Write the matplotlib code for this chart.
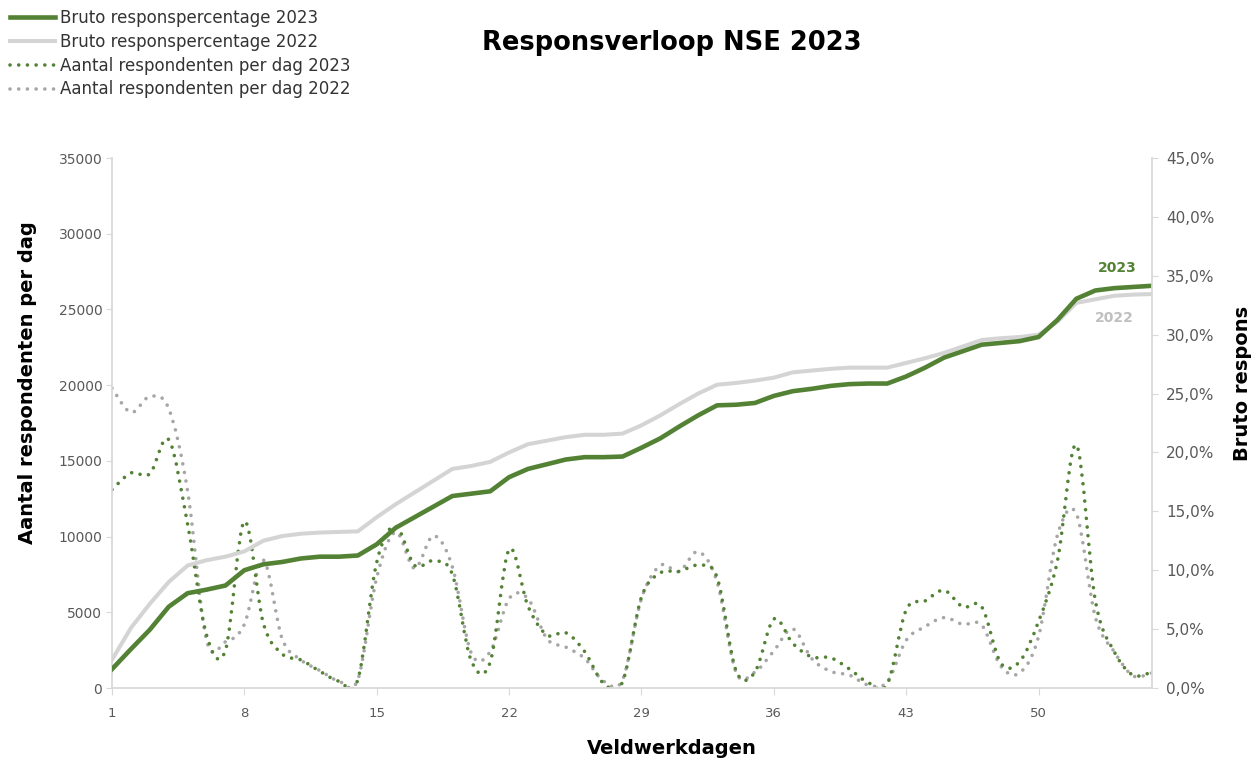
import numpy as np
import matplotlib
matplotlib.use('Agg')
import matplotlib.pyplot as plt
from matplotlib.path import Path
from matplotlib.patches import PathPatch
from matplotlib.lines import Line2D
from matplotlib.ticker import FuncFormatter

# %% data
days = list(range(1, 57))

# respondents per day (left axis)
resp_2023 = [13100, 14200, 14150, 16400, 10800, 3500, 2500, 11000, 4300, 2250,
             1850, 1100, 450, 550, 8300, 10700, 8100, 8400, 7500, 1800,
             1700, 9150, 5400, 3500, 3650, 2400, 300, 400, 6000, 7600,
             7700, 8100, 7300, 1150, 1050, 4550, 2950, 2050, 2000, 1250,
             350, 250, 5150, 5750, 6450, 5350, 5350, 1650, 1750, 4400,
             8400, 16050, 5800, 2400, 850, 1050]
resp_2022 = [19800, 18200, 19250, 18450, 13000, 3150, 3050, 4200, 8450, 3250,
             1850, 1150, 450, 550, 7300, 10300, 7900, 10050, 8000, 2300,
             2400, 5900, 5900, 3250, 2700, 1950, 450, 550, 5900, 8100,
             7700, 9000, 7000, 1050, 1050, 2450, 3900, 1950, 1100, 850,
             200, 400, 3150, 4050, 4650, 4200, 4150, 1450, 1000, 3400,
             10100, 11500, 4700, 2400, 800, 1000]

# cumulative gross response in % (right axis)
cum_2023 = [1.6, 3.3, 4.95, 6.9, 8.05, 8.35, 8.7, 10.0, 10.5, 10.7,
            11.0, 11.15, 11.15, 11.25, 12.2, 13.6, 14.5, 15.4, 16.3, 16.5,
            16.7, 17.9, 18.6, 19.0, 19.4, 19.6, 19.6, 19.65, 20.4, 21.2,
            22.2, 23.15, 24.0, 24.05, 24.2, 24.8, 25.2, 25.4, 25.65, 25.8,
            25.85, 25.85, 26.45, 27.2, 28.05, 28.6, 29.15, 29.3, 29.45, 29.8,
            31.25, 33.05, 33.75, 33.95, 34.05, 34.15]
cum_2022 = [2.4, 5.1, 7.15, 9.0, 10.4, 10.85, 11.15, 11.6, 12.5, 12.9,
            13.1, 13.2, 13.25, 13.3, 14.5, 15.6, 16.6, 17.6, 18.6, 18.85,
            19.2, 20.0, 20.7, 21.0, 21.3, 21.5, 21.5, 21.6, 22.3, 23.15,
            24.1, 25.0, 25.75, 25.9, 26.1, 26.35, 26.8, 26.95, 27.1, 27.2,
            27.2, 27.2, 27.6, 28.0, 28.45, 29.0, 29.55, 29.7, 29.8, 30.0,
            31.1, 32.7, 33.0, 33.3, 33.4, 33.45]

green = '#548235'
grey_solid = '#d4d4d4'
grey_dot = '#a6a6a6'
axis_col = '#d9d9d9'
tick_col = '#595959'
dots = (0, (0.01, 2.4))
dot_lw = 2.6


def smooth_path(x, y):
    # excel style smoothed line: cubic bezier through every point
    x = np.asarray(x, float)
    y = np.asarray(y, float)
    n = len(x)
    verts = [(x[0], y[0])]
    codes = [Path.MOVETO]
    for i in range(n - 1):
        a = max(i - 1, 0)
        b = min(i + 2, n - 1)
        c1 = (x[i] + (x[i + 1] - x[a]) / 6, y[i] + (y[i + 1] - y[a]) / 6)
        c2 = (x[i + 1] - (x[b] - x[i]) / 6, y[i + 1] - (y[b] - y[i]) / 6)
        verts += [c1, c2, (x[i + 1], y[i + 1])]
        codes += [Path.CURVE4] * 3
    return Path(verts, codes)


def add_curve(axis, x, y, **kw):
    p = PathPatch(smooth_path(x, y), fill=False, capstyle='round',
                  joinstyle='round', transform=axis.transData, **kw)
    axis.add_patch(p)
    return p


W, H = 1258, 761
fig = plt.figure(figsize=(W / 100, H / 100), dpi=100)
ax = fig.add_axes([112 / W, 1 - 688 / H, 1040 / W, 530 / H])
ax2 = ax.twinx()

# dotted daily counts on left axis
add_curve(ax, days, resp_2022, edgecolor=grey_dot, lw=dot_lw, linestyle=dots)
add_curve(ax, days, resp_2023, edgecolor=green, lw=dot_lw, linestyle=dots)

# cumulative response on right axis
ax2.plot(days, cum_2022, color=grey_solid, lw=2.9, solid_joinstyle='round')
ax2.plot(days, cum_2023, color=green, lw=3.3, solid_joinstyle='round')

ax.set_xlim(1, 56)
ax.set_ylim(0, 35000)
ax2.set_ylim(0, 45)
ax.set_xticks(range(1, 57, 7))
ax.set_yticks(range(0, 35001, 5000))
ax2.set_yticks(range(0, 46, 5))
ax2.yaxis.set_major_formatter(
    FuncFormatter(lambda v, p: '{:.1f}%'.format(v).replace('.', ',')))

for a in (ax, ax2):
    for s in a.spines.values():
        s.set_color(axis_col)
        s.set_linewidth(1.3)
    a.spines['top'].set_visible(False)
ax.spines['right'].set_visible(False)
ax2.spines['left'].set_visible(False)
ax2.spines['bottom'].set_visible(False)

ax.tick_params(axis='y', length=4, color=axis_col, labelcolor=tick_col,
               labelsize=10, pad=3)
ax.tick_params(axis='x', length=5, color=axis_col, labelcolor=tick_col,
               labelsize=9.5, pad=9)
ax2.tick_params(axis='y', length=4, color=axis_col, labelcolor=tick_col,
                labelsize=11, pad=6)

# end labels
ax2.annotate('2023', xy=(days[-1], cum_2023[-1]), xytext=(-25, 13),
             textcoords='offset points', ha='center', va='center',
             color=green, fontsize=10, fontweight='bold')
ax2.annotate('2022', xy=(days[-1], cum_2022[-1]), xytext=(-27, -17),
             textcoords='offset points', ha='center', va='center',
             color='#bfbfbf', fontsize=10, fontweight='bold')

# titles
fig.text(672 / W, 1 - 43 / H, 'Responsverloop NSE 2023', ha='center',
         va='center', fontsize=18.5, fontweight='bold', color='black')
fig.text(28 / W, 1 - 383 / H, 'Aantal respondenten per dag', rotation=90,
         ha='center', va='center', fontsize=14, fontweight='bold')
fig.text(1242 / W, 1 - 383 / H, 'Bruto respons', rotation=90,
         ha='center', va='center', fontsize=14, fontweight='bold')
fig.text(672 / W, 1 - 748 / H, 'Veldwerkdagen', ha='center', va='center',
         fontsize=14, fontweight='bold')

handles = [Line2D([], [], color=green, lw=3.3),
           Line2D([], [], color=grey_solid, lw=2.9),
           Line2D([], [], color=green, lw=dot_lw, linestyle=dots,
                  dash_capstyle='round'),
           Line2D([], [], color=grey_dot, lw=dot_lw, linestyle=dots,
                  dash_capstyle='round')]
labels = ['Bruto responspercentage 2023', 'Bruto responspercentage 2022',
          'Aantal respondenten per dag 2023', 'Aantal respondenten per dag 2022']
fig.legend(handles, labels, loc='upper left', bbox_to_anchor=(10 / W, 1 - 9 / H),
           frameon=False, fontsize=12, handlelength=2.7, handletextpad=0.3,
           labelspacing=0.35, borderpad=0, borderaxespad=0,
           labelcolor='#333333')

plt.savefig('out.png', dpi=100)
